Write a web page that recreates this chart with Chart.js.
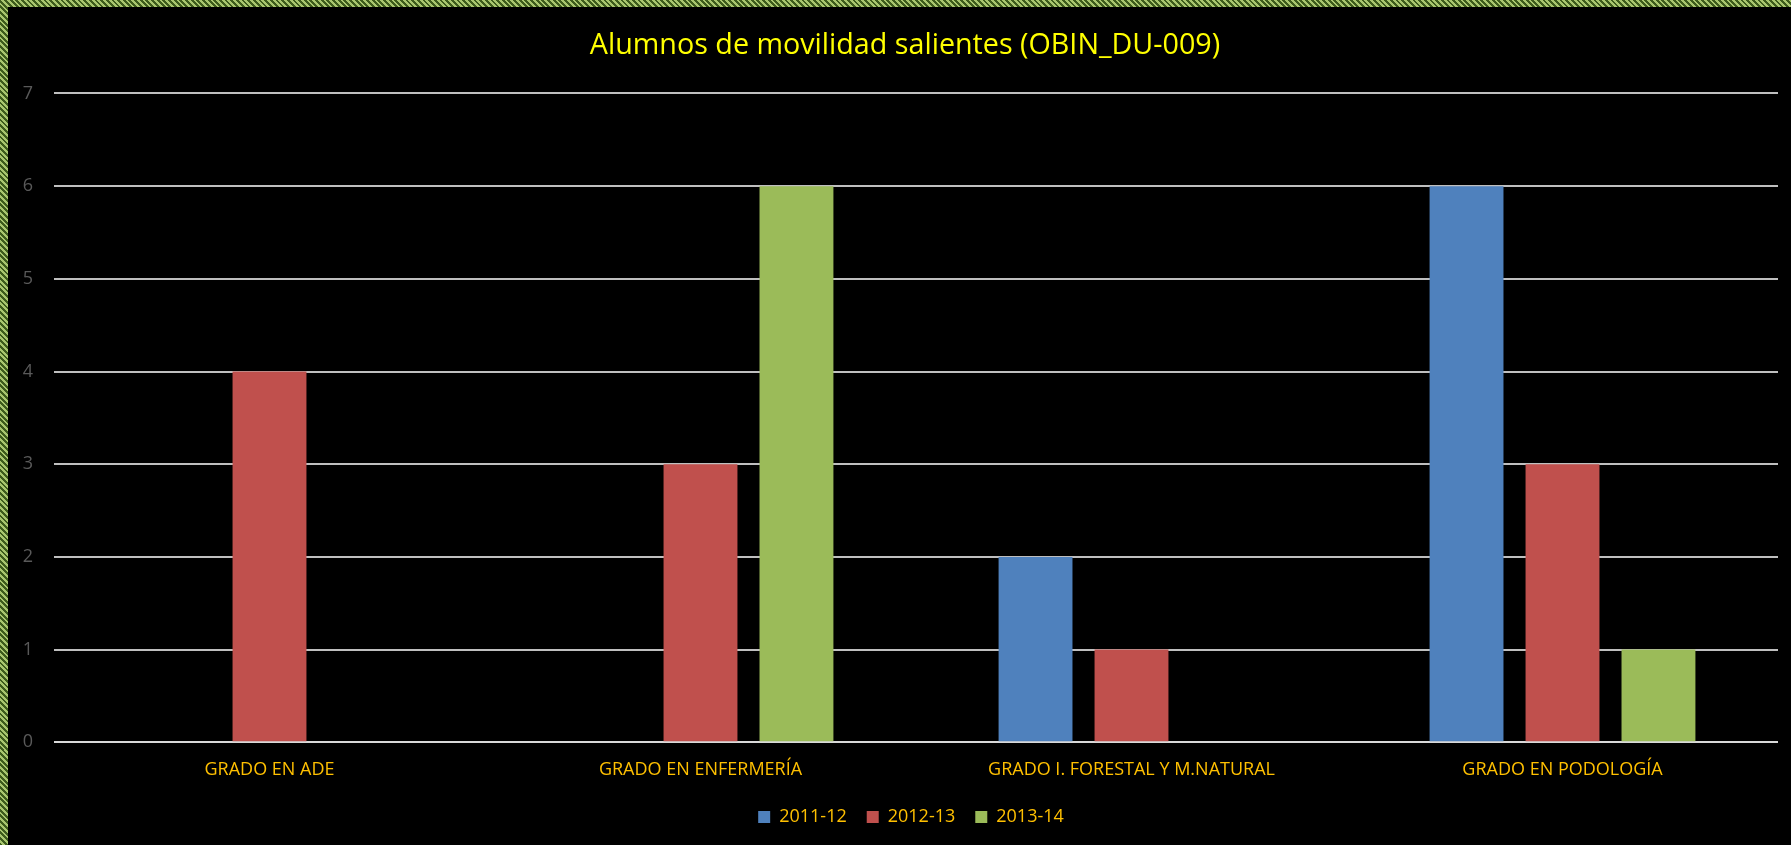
<!DOCTYPE html>
<html>
<head>
<meta charset="utf-8">
<script src="https://cdn.jsdelivr.net/npm/chart.js@4/dist/chart.umd.min.js"></script>
<style>
  html, body { margin: 0; padding: 0; }
  body {
    width: 1791px; height: 845px; overflow: hidden; position: relative;
    background: repeating-linear-gradient(45deg, #3d5c1c 0px, #3d5c1c 2px, #a8c66e 2px, #a8c66e 4px);
  }
  #wrap { position: absolute; left: 8px; top: 7px; width: 1783px; height: 838px; background: #000; }
</style>
</head>
<body>
<div id="wrap"><canvas id="movChart" width="1783" height="838"></canvas></div>
<script>
const categorias = ['GRADO EN ADE', 'GRADO EN ENFERMERÍA', 'GRADO I. FORESTAL Y M.NATURAL', 'GRADO EN PODOLOGÍA'];
const curso1112 = [null, null, 2, 6];
const curso1213 = [4, 3, 1, 3];
const curso1314 = [null, 6, null, 1];
const ticksY = [0, 1, 2, 3, 4, 5, 6, 7];

const fuente = '"Open Sans", sans-serif';

// en el original, titulo y leyenda quedan algo desplazados a la derecha
const desplazar = {
  id: 'desplazar',
  afterLayout(chart) {
    chart.legend.left += 18;
    chart.legend.right += 18;
    chart.titleBlock.left += 12;
    chart.titleBlock.right += 12;
  }
};

const ctx = document.getElementById('movChart').getContext('2d');
const chart = new Chart(ctx, {
  type: 'bar',
  data: {
    labels: categorias,
    datasets: [
      { label: '2011-12', data: curso1112, backgroundColor: '#4F81BD' },
      { label: '2012-13', data: curso1213, backgroundColor: '#C0504D' },
      { label: '2013-14', data: curso1314, backgroundColor: '#9BBB59' }
    ]
  },
  plugins: [desplazar],
  options: {
    responsive: false,
    animation: false,
    maintainAspectRatio: false,
    categoryPercentage: 0.668,
    barPercentage: 0.77,
    layout: { padding: { left: 0, right: 13, top: 0, bottom: 9 } },
    plugins: {
      title: {
        display: true,
        text: 'Alumnos de movilidad salientes (OBIN_DU-009)',
        color: '#FFFF00',
        font: { family: fuente, size: 28.7, weight: 'normal' },
        padding: { top: 22, bottom: 30 }
      },
      legend: {
        position: 'bottom',
        labels: {
          color: '#FFC000',
          font: { family: fuente, size: 18 },
          boxWidth: 12,
          boxHeight: 12,
          padding: 20
        }
      },
      tooltip: { enabled: false }
    },
    scales: {
      x: {
        afterFit: s => { s.height = 45.7; },
        grid: { display: false, drawTicks: false },
        border: { display: false },
        ticks: { color: '#FFC000', font: { family: fuente, size: 18 }, padding: 17, maxRotation: 0 }
      },
      y: {
        min: 0,
        max: 7,
        afterFit: s => { s.width = 46; },
        afterBuildTicks: s => { s.ticks = ticksY.map(v => ({ value: v })); },
        grid: {
          drawTicks: false,
          color: c => c.tick && c.tick.value === 0 ? '#d9d9d9' : '#bfbfbf',
          lineWidth: 2
        },
        border: { display: false },
        ticks: { color: '#595959', font: { family: fuente, size: 18 }, padding: 21 }
      }
    }
  }
});
</script>
</body>
</html>
